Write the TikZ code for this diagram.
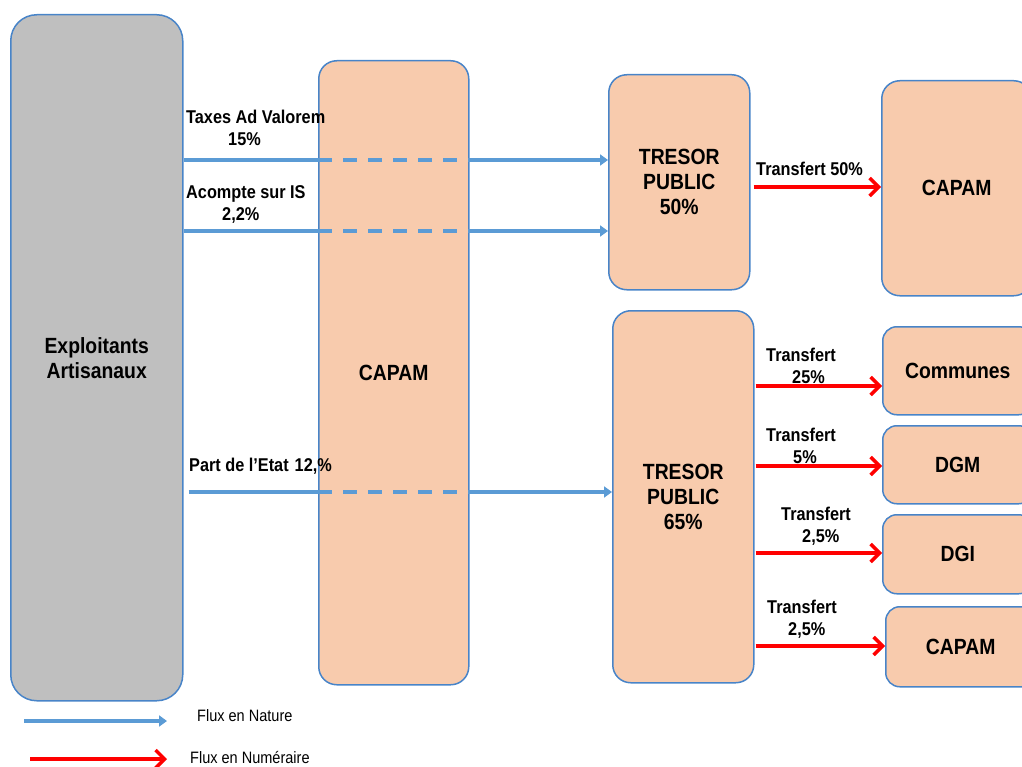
\documentclass[tikz,border=0pt]{standalone}
\usepackage{fontspec}
\setmainfont{Liberation Sans}[FakeStretch=0.88]
\usetikzlibrary{arrows.meta}
\definecolor{peach}{RGB}{248,203,173}
\definecolor{greyfill}{RGB}{191,191,191}
\definecolor{bordercol}{RGB}{72,132,200}
\definecolor{flowblue}{RGB}{91,155,213}
\definecolor{flowred}{RGB}{255,0,0}
\begin{document}
\begin{tikzpicture}[x=1pt,y=-1pt,
  box/.style={draw=bordercol, line width=1.5pt, fill=peach, rounded corners=18pt,
    inner sep=0pt, align=center, anchor=north west,
    font=\fontsize{22}{25}\selectfont\bfseries},
  smallbox/.style={box, rounded corners=14pt},
  greybox/.style={box, fill=greyfill, rounded corners=26pt},
  bline/.style={draw=flowblue, line width=3.2pt},
  bdash/.style={bline, dash pattern=on 14pt off 11pt},
  barrow/.style={bline, -{Triangle[length=8pt,width=11pt]}},
  rarrow/.style={draw=flowred, line width=3.4pt, -{Straight Barb[length=9pt,width=18pt]}},
  lbl/.style={inner sep=0pt, anchor=north west, align=left,
    font=\fontsize{18.5}{22}\selectfont\bfseries},
  leg/.style={inner sep=0pt, anchor=north west, font=\fontsize{16.5}{18}\selectfont}
]
\useasboundingbox (0,0) rectangle (1022,767);
\clip (0,0) rectangle (1022,767);

% boxes
\node[greybox, minimum width=172pt, minimum height=686pt] (ex) at (10,14) {Exploitants\\Artisanaux};
\node[box, minimum width=150pt, minimum height=624pt] (capam1) at (318,60) {CAPAM};
\node[box, minimum width=141pt, minimum height=215pt] (tp1) at (608,74) {TRESOR\\PUBLIC\\50\%};
\node[box, minimum width=141pt, minimum height=372pt] (tp2) at (612,310) {TRESOR\\PUBLIC\\65\%};
\node[box, minimum width=150pt, minimum height=215pt] (capam2) at (881,80) {CAPAM};
\node[smallbox, minimum width=150pt, minimum height=88pt] (communes) at (882,326) {Communes};
\node[smallbox, minimum width=150pt, minimum height=78pt] (dgm) at (882,425) {DGM};
\node[smallbox, minimum width=150pt, minimum height=79pt] (dgi) at (882,514) {DGI};
\node[smallbox, minimum width=150pt, minimum height=80pt] (capam3) at (885,606) {CAPAM};

% blue flows
\draw[bline] (ex.east |- 0,160) -- (capam1.west |- 0,160);
\draw[bdash] (capam1.west |- 0,160) -- (capam1.east |- 0,160);
\draw[barrow] (capam1.east |- 0,160) -- (tp1.west |- 0,160);

\draw[bline] (ex.east |- 0,231) -- (capam1.west |- 0,231);
\draw[bdash] (capam1.west |- 0,231) -- (capam1.east |- 0,231);
\draw[barrow] (capam1.east |- 0,231) -- (tp1.west |- 0,231);

\coordinate[xshift=5pt] (ps) at (ex.east |- 0,492);
\draw[bline] (ps) -- (capam1.west |- 0,492);
\draw[bdash] (capam1.west |- 0,492) -- (capam1.east |- 0,492);
\draw[barrow] (capam1.east |- 0,492) -- (tp2.west |- 0,492);

\node[lbl] (l1) at (186,110) {Taxes Ad Valorem\\\hspace*{42pt}15\%};
\node[lbl] (l2) at (186,185) {Acompte sur IS\\\hspace*{36pt}2,2\%};
\node[lbl] (l3) at (189,458) {Part de l’Etat\hspace{6pt}12,\%};

% red flows
\draw[rarrow] ([xshift=3pt]tp1.east |- 0,187) -- (capam2.west |- 0,187);
\draw[rarrow] ([xshift=1pt]tp2.east |- 0,386) -- (communes.west |- 0,386);
\draw[rarrow] ([xshift=1pt]tp2.east |- 0,466) -- (dgm.west |- 0,466);
\draw[rarrow] ([xshift=1pt]tp2.east |- 0,553) -- (dgi.west |- 0,553);
\draw[rarrow] ([xshift=1pt]tp2.east |- 0,646) -- (capam3.west |- 0,646);

\node[lbl] (t1) at (756,162) {Transfert 50\%};
\node[lbl] (t2) at (766,348) {Transfert\\\hspace*{26pt}25\%};
\node[lbl] (t3) at (766,428) {Transfert\\\hspace*{27pt}5\%};
\node[lbl] (t4) at (781,507) {Transfert\\\hspace*{21pt}2,5\%};
\node[lbl] (t5) at (767,600) {Transfert\\\hspace*{21pt}2,5\%};

% legend
\coordinate (lb1) at (24,721);
\coordinate (lb2) at (167,721);
\coordinate (lr1) at (30,759);
\coordinate (lr2) at (167,759);
\draw[barrow] (lb1) -- (lb2);
\draw[rarrow] (lr1) -- (lr2);
\node[leg] (n1) at (197,709) {Flux en Nature};
\node[leg] (n2) at (190,751) {Flux en Numéraire};
\end{tikzpicture}
\end{document}
